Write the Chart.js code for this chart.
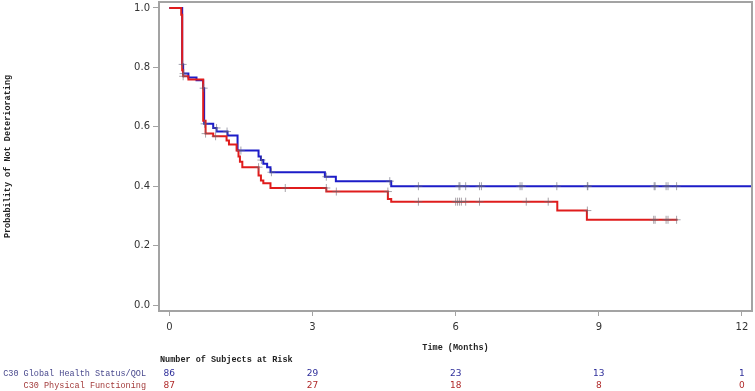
<!DOCTYPE html>
<html>
<head>
<meta charset="utf-8">
<script src="https://cdn.jsdelivr.net/npm/chart.js@4/dist/chart.umd.min.js"></script>
<style>
  html,body{margin:0;padding:0;background:#fff;}
  #wrap{width:755px;height:391px;}
</style>
</head>
<body>
<div id="wrap"><canvas id="km" width="755" height="391"></canvas></div>
<script>
// KM step curves (time in months, survival probability from that time on)
const qolTimes=[0,0.27,0.29,0.40,0.57,0.71,0.73,0.92,0.99,1.22,1.43,1.87,1.92,1.97,2.05,2.12,3.26,3.49,4.65,12.21];
const qolSurv =[1.0,0.81,0.779,0.766,0.757,0.73,0.61,0.596,0.584,0.571,0.52,0.50,0.488,0.476,0.464,0.447,0.432,0.417,0.40,0.40];
const pfTimes=[0,0.25,0.27,0.29,0.40,0.71,0.76,0.92,1.20,1.25,1.41,1.45,1.48,1.53,1.87,1.92,1.97,2.12,3.29,4.58,4.65,8.13,8.75,10.65];
const pfSurv =[1.0,0.977,0.79,0.77,0.759,0.62,0.577,0.568,0.554,0.54,0.52,0.50,0.482,0.464,0.436,0.419,0.41,0.394,0.382,0.357,0.348,0.318,0.287,0.287];

// censored observations
const qolCensT=[0.28,0.30,0.72,0.74,0.99,1.21,1.50,1.93,2.14,3.29,4.62,5.22,6.07,6.09,6.21,6.50,6.54,7.35,7.39,8.12,8.76,8.77,10.16,10.18,10.41,10.45,10.63];
const qolCensS=[0.81,0.779,0.73,0.61,0.596,0.584,0.52,0.488,0.447,0.432,0.417,0.40,0.40,0.40,0.40,0.40,0.40,0.40,0.40,0.40,0.40,0.40,0.40,0.40,0.40,0.40,0.40];
const pfCensT=[0.29,0.76,0.97,1.87,2.43,3.29,3.50,4.58,5.22,6.00,6.04,6.08,6.12,6.21,6.50,7.48,7.94,8.76,10.15,10.18,10.41,10.45,10.63];
const pfCensS=[0.77,0.577,0.568,0.464,0.394,0.394,0.382,0.382,0.348,0.348,0.348,0.348,0.348,0.348,0.348,0.348,0.348,0.318,0.287,0.287,0.287,0.287,0.287];

const xTicks=[0,3,6,9,12];
const yTicks=[0,0.2,0.4,0.6,0.8,1.0];

// number at risk table
const atRiskTimes=[0,3,6,9,12];
const atRiskQol=[86,29,23,13,1];
const atRiskPf=[87,27,18,8,0];
const groupNames=['C30 Global Health Status/QOL','C30 Physical Functioning'];

const BLUE='#1c1cc8',RED='#e01c1c',FRAME='#a3a3a3';
const MONO='"Liberation Mono","DejaVu Sans Mono",monospace';

function pts(xs,ys){return xs.map((x,i)=>({x:x,y:ys[i]}));}

const frame={
  id:'frame',
  afterDatasetsDraw(c){
    const a=c.chartArea,ctx=c.ctx;
    ctx.save();ctx.strokeStyle=FRAME;ctx.lineWidth=2;
    ctx.beginPath();ctx.moveTo(a.left,a.top);ctx.lineTo(a.right,a.top);ctx.lineTo(a.right,a.bottom);ctx.stroke();
    ctx.restore();
  },
  afterDraw(c){
    const ctx=c.ctx,xs=c.scales.x;
    ctx.save();
    ctx.font='bold 8.5px '+MONO;ctx.fillStyle='#222';ctx.textBaseline='middle';ctx.textAlign='left';
    ctx.fillText('Number of Subjects at Risk',160,360);
    ctx.font='8.5px '+MONO;ctx.textAlign='right';
    ctx.fillStyle='#4a4a8e';ctx.fillText(groupNames[0],146,374);
    ctx.fillStyle='#a33c3c';ctx.fillText(groupNames[1],146,385.5);
    ctx.font='9px "DejaVu Sans",sans-serif';ctx.textAlign='center';
    atRiskTimes.forEach((t,i)=>{
      const px=xs.getPixelForValue(t);
      ctx.fillStyle='#2e2e9a';ctx.fillText(String(atRiskQol[i]),px,374);
      ctx.fillStyle='#b02a2a';ctx.fillText(String(atRiskPf[i]),px,385.5);
    });
    ctx.restore();
  }
};

new Chart(document.getElementById('km'),{
  type:'line',
  data:{datasets:[
    {label:'PF',data:pts(pfTimes,pfSurv),borderColor:RED,borderWidth:2,stepped:true,pointRadius:0,fill:false,order:1},
    {label:'QOL',data:pts(qolTimes,qolSurv),borderColor:BLUE,borderWidth:2,stepped:true,pointRadius:0,fill:false,order:2},
    {label:'PF cens',data:pts(pfCensT,pfCensS),showLine:false,pointStyle:'cross',pointRadius:4,pointBorderWidth:1,pointBorderColor:'rgba(110,100,110,0.6)',order:0},
    {label:'QOL cens',data:pts(qolCensT,qolCensS),showLine:false,pointStyle:'cross',pointRadius:4,pointBorderWidth:1,pointBorderColor:'rgba(100,100,120,0.6)',order:0}
  ]},
  options:{
    responsive:false,animation:false,
    layout:{autoPadding:false,padding:{top:2,right:3,left:0,bottom:0}},
    plugins:{legend:{display:false},tooltip:{enabled:false}},
    scales:{
      x:{type:'linear',min:-0.216,max:12.21,
        afterBuildTicks(s){s.ticks=xTicks.map(v=>({value:v}));},
        afterFit(s){s.height=80;s.paddingLeft=0;s.paddingRight=0;},
        grid:{drawOnChartArea:false,drawTicks:true,tickLength:5,tickColor:FRAME},
        border:{display:true,color:FRAME,width:2},
        ticks:{color:'#333',font:{family:'"DejaVu Sans",sans-serif',size:10},padding:5,maxRotation:0},
        title:{display:true,text:'Time (Months)',color:'#222',font:{family:MONO,size:8.5,weight:'bold'},padding:{top:0,bottom:38}}
      },
      y:{type:'linear',min:-0.02,max:1.02,
        afterBuildTicks(s){s.ticks=yTicks.map(v=>({value:v}));},
        afterFit(s){s.width=159;s.paddingTop=0;s.paddingBottom=0;},
        grid:{drawOnChartArea:false,drawTicks:true,tickLength:6,tickColor:FRAME},
        border:{display:true,color:FRAME,width:2},
        ticks:{color:'#333',font:{family:'"DejaVu Sans",sans-serif',size:10},padding:3,callback:v=>v.toFixed(1)},
        title:{display:true,text:'Probability of Not Deteriorating',color:'#222',font:{family:MONO,size:8.5,weight:'bold'},padding:{top:3,bottom:0}}
      }
    }
  },
  plugins:[frame]
});
</script>
</body>
</html>
